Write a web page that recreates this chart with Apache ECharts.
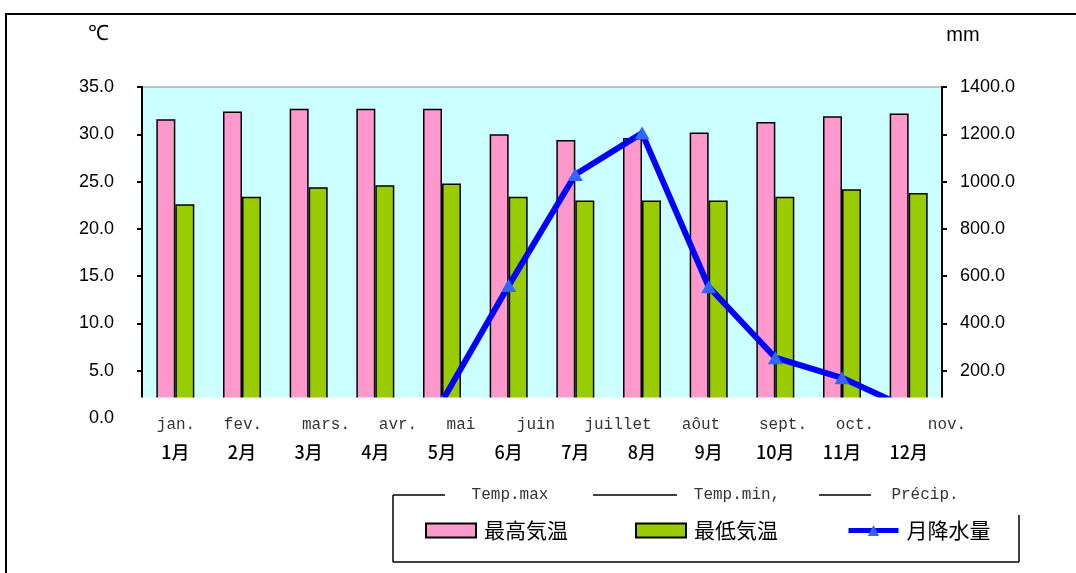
<!DOCTYPE html>
<html lang="ja">
<head>
    <meta charset="UTF-8">
    <title>climate</title>
    <script src="https://cdn.jsdelivr.net/npm/echarts@6/dist/echarts.min.js"></script>
    <style>
        html, body { margin: 0; padding: 0; background: #fff; }
        #main { width: 1076px; height: 573px; }
    </style>
</head>
<body>
<div id="main"></div>
<script>
    // data
    var months = ['1月','2月','3月','4月','5月','6月','7月','8月','9月','10月','11月','12月'];
    var frMonths = ['jan.','fev.','mars.','avr.','mai','juin','juillet','aôut','sept.','oct.','nov.'];
    var tempMax = [31.6,32.4,32.7,32.7,32.7,30.0,29.4,29.6,30.2,31.3,31.9,32.2];
    var tempMin = [22.6,23.4,24.4,24.6,24.8,23.4,23.0,23.0,23.0,23.4,24.2,23.8];
    var precip = [10,15,25,40,70,560,1030,1205,555,255,170,40];
    var seriesNames = ['最高気温','最低気温','月降水量'];
    var legendCaptions = ['Temp.max','Temp.min,','Précip.'];

    // french labels sit a bit off the categories in the original
    var frX = [176,243,326,398,461,536,618,701,783,855,947];
    var monoStyle = {fontFamily:'Liberation Mono', fontSize:16, fill:'#333', align:'center', verticalAlign:'middle'};

    function txt(x, y, t, extra){
        var s = Object.assign({}, monoStyle, extra || {}, {text:t});
        return {type:'text', x:x, y:y, z:40, style:s};
    }

    var graphics = [];
    // outer frame
    graphics.push({type:'line', shape:{x1:5,y1:14,x2:1076,y2:14}, style:{stroke:'#000',lineWidth:2}, z:40});
    graphics.push({type:'line', shape:{x1:6,y1:14,x2:6,y2:573}, style:{stroke:'#000',lineWidth:2}, z:40});
    // white band that hides the bottom of the plot
    graphics.push({type:'rect', shape:{x:134,y:397.5,width:906,height:34}, style:{fill:'#fff'}, z:10});
    frMonths.forEach(function(t,i){
        graphics.push(txt(frX[i], 425, t));
    });
    // legend box
    var boxLines = [[393,495,393,562],[393,562,1019,562],[1019,515,1019,562],
                    [393,495,445,495],[593,495,677,495],[819,495,871,495]];
    boxLines.forEach(function(l){
        graphics.push({type:'line', shape:{x1:l[0],y1:l[1],x2:l[2],y2:l[3]}, style:{stroke:'#000',lineWidth:1.5}, z:40});
    });
    var capX = [510,737,925];
    legendCaptions.forEach(function(t,i){
        graphics.push(txt(capX[i], 495, t));
    });
    // units
    graphics.push(txt(98, 34, '℃', {fontFamily:'Liberation Sans', fontSize:21, fill:'#000'}));
    graphics.push(txt(963, 35, 'mm', {fontFamily:'Liberation Sans', fontSize:20, fill:'#000'}));

    var legendLeft = [425,635,846];
    var legends = seriesNames.map(function(n,i){
        var lg = {
            data:[n], left:legendLeft[i], top:520, padding:0,
            itemWidth:50, itemHeight:14, itemGap:0,
            textStyle:{fontFamily:'Noto Sans CJK JP', fontSize:21, color:'#000', padding:[0,0,0,3]}
        };
        if (i < 2) lg.icon = 'rect';
        else {
            lg.lineStyle = {width:5, color:'#0000ff'};
            lg.itemStyle = {color:'#3366ff'};
        }
        return lg;
    });

    var myChart = echarts.init(document.getElementById('main'));
    var option = {
        animation:false,
        backgroundColor:'#fff',
        grid:{left:142, right:134, top:87, bottom:155, show:true, backgroundColor:'#ccffff', borderColor:'#888', borderWidth:1},
        legend: legends,
        xAxis:{
            type:'category', data:months, z:20,
            axisLine:{show:false}, axisTick:{show:false},
            axisLabel:{margin:25, fontFamily:'Noto Sans CJK JP', fontSize:18, fontWeight:500, color:'#000'}
        },
        yAxis:[
            {
                type:'value', min:0, max:35, interval:5, position:'left',
                axisLine:{show:true, lineStyle:{color:'#000', width:2}},
                axisTick:{show:true, length:5, lineStyle:{color:'#000', width:2}},
                splitLine:{show:false},
                axisLabel:{margin:28, fontFamily:'Liberation Sans', fontSize:18, color:'#000',
                    formatter:function(v){ return v.toFixed(1); }}
            },
            {
                type:'value', min:0, max:1400, interval:200, position:'right',
                axisLine:{show:true, lineStyle:{color:'#000', width:2}},
                axisTick:{show:true, length:5, lineStyle:{color:'#000', width:2}},
                splitLine:{show:false},
                axisLabel:{margin:18, fontFamily:'Liberation Sans', fontSize:18, color:'#000',
                    formatter:function(v){ return v.toFixed(1); }}
            }
        ],
        series:[
            {
                name:seriesNames[0], type:'bar', data:tempMax, barWidth:19, barGap:'0%',
                itemStyle:{color:'#ff99cc', borderColor:'#000', borderWidth:1.5}
            },
            {
                name:seriesNames[1], type:'bar', data:tempMin, barWidth:19,
                itemStyle:{color:'#99cc00', borderColor:'#000', borderWidth:1.5}
            },
            {
                name:seriesNames[2], type:'line', yAxisIndex:1, data:precip, z:5,
                symbol:'triangle', symbolSize:[15,13], showAllSymbol:true,
                lineStyle:{color:'#0000ff', width:6},
                itemStyle:{color:'#3366ff', borderWidth:0}
            }
        ],
        graphic: graphics
    };
    myChart.setOption(option, true);
</script>
</body>
</html>
